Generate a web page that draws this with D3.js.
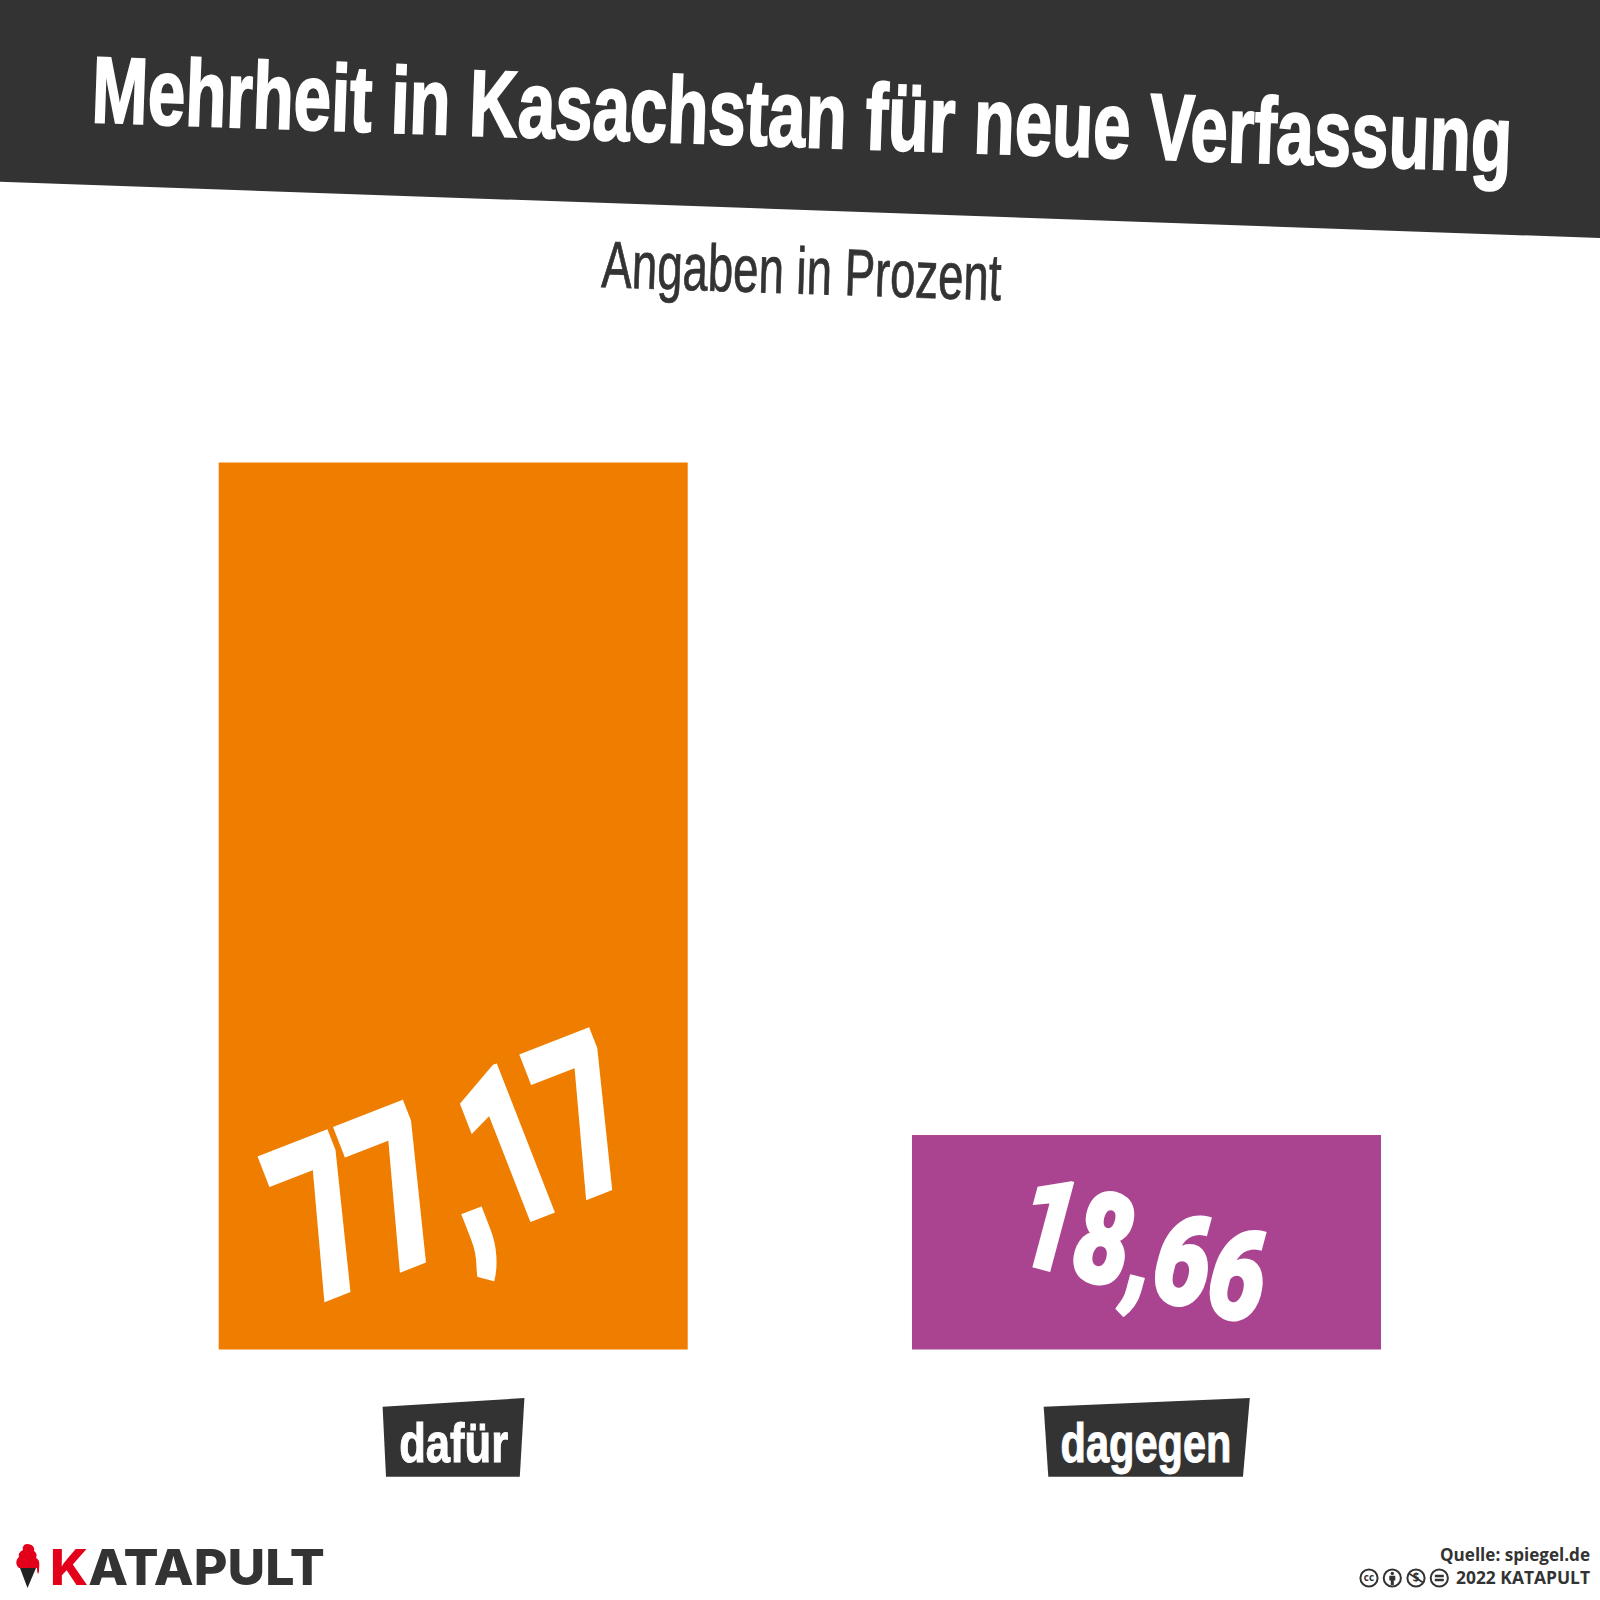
<!DOCTYPE html>
<html>
<head>
<meta charset="utf-8">
<script src="https://cdn.jsdelivr.net/npm/d3@7"></script>
<style>
  html, body { margin: 0; padding: 0; background: #fff; }
  svg { display: block; }
  .narrow { font-family: "Liberation Sans Narrow", "Liberation Sans", sans-serif; }
  .num { font-family: Roboto, sans-serif; font-weight: 900; }
</style>
</head>
<body>
<svg id="chart" width="1600" height="1600"></svg>
<script>
var titleText = "Mehrheit in Kasachstan für neue Verfassung";
var subtitleText = "Angaben in Prozent";
var categories = ["dafür", "dagegen"];
var values = [77.17, 18.66];
var valueLabels = ["77,17", "18,66"];
var barColors = ["#ef7d00", "#aa4491"];
var sourceText = "Quelle: spiegel.de";
var copyrightText = "2022 KATAPULT";

var dark = "#333333";
var svg = d3.select("#chart");

var x = d3.scaleBand().domain(categories).range([218.7, 1381]).paddingInner(0.3235);
var y = d3.scaleLinear().domain([0, 100]).range([1349.5, 200.1]);
var color = d3.scaleOrdinal().domain(categories).range(barColors);

// puts text at x,y and squeezes it to the wanted length
function fitText(sel, px, py, angle, len) {
    var natural = sel.node().getComputedTextLength();
    sel.attr("transform", "translate(" + px + "," + py + ") rotate(" + angle + ") scale(" + (len / natural) + ",1)");
    return sel;
}

// header
svg.append("path")
    .attr("d", "M0,0H1600V238L0,181.7Z")
    .attr("fill", dark);

fitText(svg.append("text").attr("class", "narrow")
    .attr("font-size", 94).attr("font-weight", 700).attr("fill", "#fff")
    .attr("stroke", "#fff").attr("stroke-width", 2)
    .text(titleText), 91, 122, 2, 1421);

fitText(svg.append("text").attr("class", "narrow")
    .attr("font-size", 66).attr("fill", dark)
    .attr("stroke", dark).attr("stroke-width", 0.8)
    .text(subtitleText), 601, 287, 1.9, 400);

// bars
svg.selectAll("rect.bar").data(categories).join("rect")
    .attr("class", "bar")
    .attr("x", function (d) { return x(d); })
    .attr("width", x.bandwidth())
    .attr("y", function (d, i) { return y(values[i]); })
    .attr("height", function (d, i) { return y(0) - y(values[i]); })
    .attr("fill", function (d) { return color(d); });

// values on the bars
fitText(svg.append("text").attr("class", "num")
    .attr("font-size", 218).attr("fill", "#fff")
    .attr("stroke", "#fff").attr("stroke-width", 5)
    .text(valueLabels[0]), 313, 1304, -21.3, 362);

fitText(svg.append("text").attr("class", "num")
    .attr("font-size", 127).attr("fill", "#fff")
    .attr("stroke", "#fff").attr("stroke-width", 3)
    .text(valueLabels[1]), 1011, 1260, 15, 252);

// category tags under the bars
var tags = [
    { tl: -70.6, tr: 71.2, br: 66.6, bl: -67.2, tx: -54, len: 109 },
    { tl: -102.8, tr: 103.3, br: 96.5, bl: -98.2, tx: -86, len: 171 }
];
categories.forEach(function (c, i) {
    var cx = x(c) + x.bandwidth() / 2, t = tags[i];
    svg.append("polygon")
        .attr("points", [[cx + t.tl, 1406.7], [cx + t.tr, 1398], [cx + t.br, 1476.7], [cx + t.bl, 1476.7]].join(" "))
        .attr("fill", dark);
    fitText(svg.append("text").attr("class", "narrow")
        .attr("font-size", 55).attr("font-weight", 700).attr("fill", "#fff")
        .attr("stroke", "#fff").attr("stroke-width", 1)
        .text(c), cx + t.tx, 1462, 0, t.len);
});

// logo
svg.append("path")
    .attr("d", "M20,1568H36L27.5,1588Z")
    .attr("fill", "#222");
svg.append("path")
    .attr("d", "M27,1544C33,1544 35,1548 34,1551C37,1553 37,1556 36,1558C40,1560 39.5,1564 39,1570C39,1575 37,1575 37,1568H19C16,1566 15,1560 19,1557C18,1553 21,1551 23,1550C22,1547 24,1544 27,1544Z")
    .attr("fill", "#e2001a");
var logo = svg.append("text")
    .attr("font-family", "Inter, sans-serif").attr("font-size", 50).attr("font-weight", 800).attr("fill", dark);
logo.append("tspan").attr("fill", "#e2001a").text("K");
logo.append("tspan").text("ATAPULT");
fitText(logo, 50, 1585, 0, 275);

// source and licence
svg.append("text")
    .attr("x", 1590).attr("y", 1560.5).attr("text-anchor", "end")
    .attr("font-family", "'Open Sans', sans-serif").attr("font-size", 18).attr("font-weight", 700).attr("fill", dark)
    .attr("textLength", 150).attr("lengthAdjust", "spacingAndGlyphs")
    .text(sourceText);
svg.append("text")
    .attr("x", 1590).attr("y", 1584).attr("text-anchor", "end")
    .attr("font-family", "'Open Sans', sans-serif").attr("font-size", 18).attr("font-weight", 700).attr("fill", dark)
    .attr("textLength", 134).attr("lengthAdjust", "spacingAndGlyphs")
    .text(copyrightText);

var ccX = [1369, 1392.3, 1416, 1439.3];
ccX.forEach(function (cxx, i) {
    var g = svg.append("g").attr("transform", "translate(" + cxx + ",1578)");
    g.append("circle").attr("r", 8.6).attr("fill", "#fff").attr("stroke", dark).attr("stroke-width", 2);
    if (i == 0) {
        g.append("text").attr("y", 3.2).attr("text-anchor", "middle")
            .attr("font-family", "'Open Sans', sans-serif").attr("font-size", 10).attr("font-weight", 700).attr("fill", dark).text("cc");
    } else if (i == 1) {
        g.append("circle").attr("cy", -4.6).attr("r", 1.7).attr("fill", dark);
        g.append("path").attr("d", "M-3,-2.2H3V2.5H1.5V7H-1.5V2.5H-3Z").attr("fill", dark);
    } else if (i == 2) {
        g.append("text").attr("y", 4).attr("text-anchor", "middle")
            .attr("font-family", "'Open Sans', sans-serif").attr("font-size", 11.5).attr("font-weight", 700).attr("fill", dark).text("$");
        g.append("path").attr("d", "M-7,-4.5L7,4.5").attr("stroke", dark).attr("stroke-width", 1.8);
    } else {
        g.append("path").attr("d", "M-4.5,-3.2H4.5V-0.8H-4.5ZM-4.5,0.8H4.5V3.2H-4.5Z").attr("fill", dark);
    }
});
</script>
</body>
</html>
